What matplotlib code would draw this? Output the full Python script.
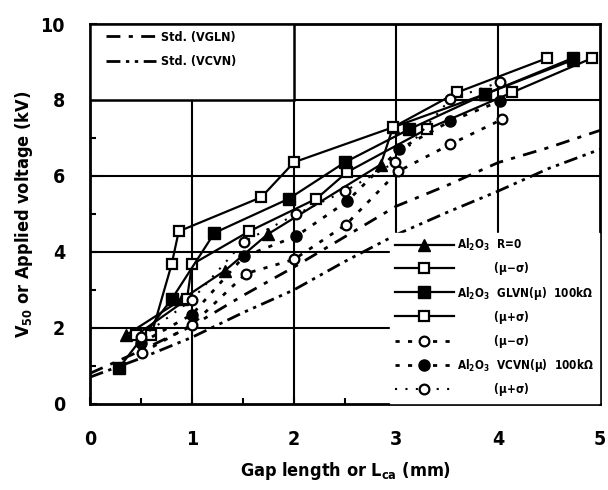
import matplotlib
matplotlib.use("Agg")
import matplotlib.pyplot as plt
from matplotlib.patches import Rectangle

plt.rcParams["font.family"] = ["Liberation Sans Narrow", "DejaVu Sans"]
plt.rcParams["font.weight"] = "bold"
plt.rcParams["font.stretch"] = "condensed"
plt.rcParams["mathtext.default"] = "bf"

# standard curves
std_x = [0, 0.5, 1, 1.5, 2, 2.5, 3, 3.5, 4, 4.5, 5]
std_vgln = [0.8, 1.4, 2.05, 2.85, 3.6, 4.4, 5.2, 5.75, 6.35, 6.75, 7.2]
std_vcvn = [0.7, 1.2, 1.75, 2.4, 3.0, 3.75, 4.45, 5.04, 5.6, 6.2, 6.7]

# Al2O3 R=0
r0_x = [0.35, 0.9, 1.32, 1.74, 2.85, 2.97, 3.87, 4.73]
r0_y = [1.8, 2.75, 3.5, 4.46, 6.3, 7.28, 8.15, 9.05]

# GLVN 100kohm
gl_lo_x = [0.45, 0.95, 1.0, 1.56, 2.22, 2.52, 3.3, 4.14, 4.92]
gl_lo_y = [1.8, 2.75, 3.67, 4.54, 5.4, 6.1, 7.23, 8.2, 9.1]
gl_mu_x = [0.28, 0.8, 1.22, 1.95, 2.5, 3.13, 3.87, 4.73]
gl_mu_y = [0.93, 2.75, 4.5, 5.4, 6.36, 7.23, 8.15, 9.1]
gl_hi_x = [0.6, 0.8, 0.87, 1.68, 2.0, 2.97, 3.6, 4.48]
gl_hi_y = [1.8, 3.67, 4.54, 5.44, 6.36, 7.28, 8.2, 9.1]

# VCVN 100kohm
vc_lo_x = [0.51, 1.0, 1.53, 2.0, 2.51, 3.02, 3.53, 4.04]
vc_lo_y = [1.34, 2.08, 3.43, 3.8, 4.72, 6.12, 6.83, 7.49]
vc_mu_x = [0.5, 1.0, 1.51, 2.02, 2.52, 3.03, 3.53, 4.02]
vc_mu_y = [1.6, 2.35, 3.88, 4.41, 5.33, 6.7, 7.44, 7.97]
vc_hi_x = [0.5, 1.0, 1.51, 2.02, 2.5, 2.99, 3.53, 4.02]
vc_hi_y = [1.75, 2.74, 4.27, 4.99, 5.6, 6.36, 8.02, 8.47]

fig = plt.figure(figsize=(6.08, 4.9), dpi=100)
ax = fig.add_axes([0.148, 0.176, 0.839, 0.775])

ax.set_xlim(0, 5)
ax.set_ylim(0, 10)
ax.set_xticks([0, 1, 2, 3, 4, 5])
ax.set_yticks([0, 2, 4, 6, 8, 10])
ax.set_xticks([0.5, 1.5, 2.5, 3.5, 4.5], minor=True)
ax.set_yticks([1, 3, 5, 7, 9], minor=True)
ax.tick_params(direction="in", length=5, width=1.5, labelsize=14, pad=19)
ax.tick_params(axis="y", pad=18)
ax.tick_params(which="minor", direction="in", length=4, width=1.5)
for s in ax.spines.values():
    s.set_linewidth(2)
for v in [1, 2, 3, 4]:
    ax.axvline(v, color="black", lw=1.5, zorder=0)
for v in [2, 4, 6, 8]:
    ax.axhline(v, color="black", lw=1.5, zorder=0)

lw = 1.6
l_vgln, = ax.plot(std_x, std_vgln, color="black", lw=2, dashes=(5, 3, 1.5, 3))
l_vcvn, = ax.plot(std_x, std_vcvn, color="black", lw=2, dashes=(5, 2, 1.2, 2, 1.2, 2))

h1, = ax.plot(r0_x, r0_y, "k-", lw=lw, marker="^", ms=8, mfc="black")
h2, = ax.plot(gl_lo_x, gl_lo_y, "k-", lw=lw, marker="s", ms=7, mfc="white", mew=1.6)
h3, = ax.plot(gl_mu_x, gl_mu_y, "k-", lw=lw, marker="s", ms=8, mfc="black")
h4, = ax.plot(gl_hi_x, gl_hi_y, "k-", lw=lw, marker="s", ms=7, mfc="white", mew=1.6)
h5, = ax.plot(vc_lo_x, vc_lo_y, color="black", lw=2, dashes=(1.5, 3), marker="o", ms=7, mfc="white", mew=1.6)
h6, = ax.plot(vc_mu_x, vc_mu_y, color="black", lw=2, dashes=(1.5, 3), marker="o", ms=8, mfc="black")
h7, = ax.plot(vc_hi_x, vc_hi_y, color="black", lw=1.5, dashes=(1, 4), marker="o", ms=7, mfc="white", mew=1.6)

# legend box for the standard curves fills the 0-2 / 8-10 cell
ax.add_patch(Rectangle((0, 8), 2, 2, facecolor="white", edgecolor="black", lw=1.8, zorder=4))
leg1 = ax.legend([l_vgln, l_vcvn], ["Std. (VGLN)", "Std. (VCVN)"], loc="upper left",
                 bbox_to_anchor=(0.01, 1.012), frameon=False, fontsize=9,
                 handlelength=4, labelspacing=0.9, handletextpad=0.4)
ax.add_artist(leg1)

labels2 = ["Al$_2$O$_3$  R=0", "          ($\\mu$$-$$\\sigma$)", "Al$_2$O$_3$  GLVN($\\mu$)  100k$\\Omega$",
           "          ($\\mu$+$\\sigma$)", "          ($\\mu$$-$$\\sigma$)", "Al$_2$O$_3$  VCVN($\\mu$)  100k$\\Omega$",
           "          ($\\mu$+$\\sigma$)"]
leg2 = ax.legend([h1, h2, h3, h4, h5, h6, h7], labels2, loc="lower right",
                 bbox_to_anchor=(1, 0), borderaxespad=0.1, frameon=True, fancybox=False,
                 edgecolor="white", framealpha=1, fontsize=8.5, handlelength=5,
                 labelspacing=0.6, handletextpad=0.3)

ax.set_xlabel("Gap length or L$_{ca}$ (mm)", fontsize=13, fontweight="bold", labelpad=8)
ax.set_ylabel("V$_{50}$ or Applied voltage (kV)", fontsize=13, fontweight="bold", labelpad=4)

fig.savefig("out.png", dpi=100)
